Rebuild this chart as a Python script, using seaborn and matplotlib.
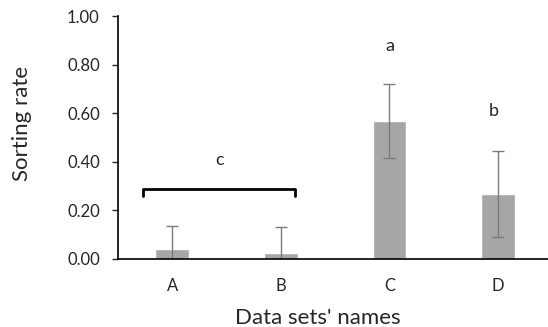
import pandas as pd
import numpy as np
import matplotlib.pyplot as plt
import seaborn as sns

# data
names = ['A', 'B', 'C', 'D']
rates = [0.04, 0.023, 0.568, 0.269]
errors = [0.095, 0.107, 0.153, 0.177]
letters = ['c', 'a', 'b']

sns.set_style('white')
plt.rcParams['font.family'] = ['Lato', 'DejaVu Sans']

df = pd.DataFrame({'name': names, 'rate': rates, 'err': errors})

fig = plt.figure(figsize=(5.48, 3.27), dpi=100)
ax = fig.add_axes([0.215, 0.208, 0.785, 0.743])

sns.barplot(data=df, x='name', y='rate', color='#a6a6a6', saturation=1,
            width=0.31, errorbar=None, ax=ax)
ax.errorbar(np.arange(len(names)), df['rate'], yerr=df['err'], fmt='none',
            ecolor='#7a7a7a', elinewidth=1, capsize=4, capthick=1)

# bracket over A and B with letter
bx0, bx1, by, bdrop = -0.264, 1.13, 0.289, 0.03
ax.plot([bx0, bx0, bx1, bx1], [by - bdrop, by, by, by - bdrop],
        color='black', lw=2, solid_joinstyle='round', clip_on=False)
ax.text((bx0 + bx1) / 2, 0.407, letters[0], ha='center', va='center', fontsize=13)
ax.text(2, 0.877, letters[1], ha='center', va='center', fontsize=13)
ax.text(2.96, 0.609, letters[2], ha='center', va='center', fontsize=13)

ax.set_ylim(0, 1.0)
ax.set_xlim(-0.5, 3.46)
ax.set_yticks(np.arange(0, 1.01, 0.2))
ax.set_yticklabels([f'{v:.2f}' for v in np.arange(0, 1.01, 0.2)])
ax.tick_params(axis='y', left=True, length=4, width=1, pad=9, labelsize=12)
ax.tick_params(axis='x', bottom=False, pad=10, labelsize=12)

for s in ['top', 'right']:
    ax.spines[s].set_visible(False)
for s in ['left', 'bottom']:
    ax.spines[s].set_color('black')
    ax.spines[s].set_linewidth(1.2)

ax.set_xlabel("Data sets' names", fontsize=16)
ax.set_ylabel('Sorting rate', fontsize=16)
ax.xaxis.set_label_coords(0.465, -0.2)
ax.yaxis.set_label_coords(-0.2, 0.556)

fig.savefig('out.png', dpi=100)
